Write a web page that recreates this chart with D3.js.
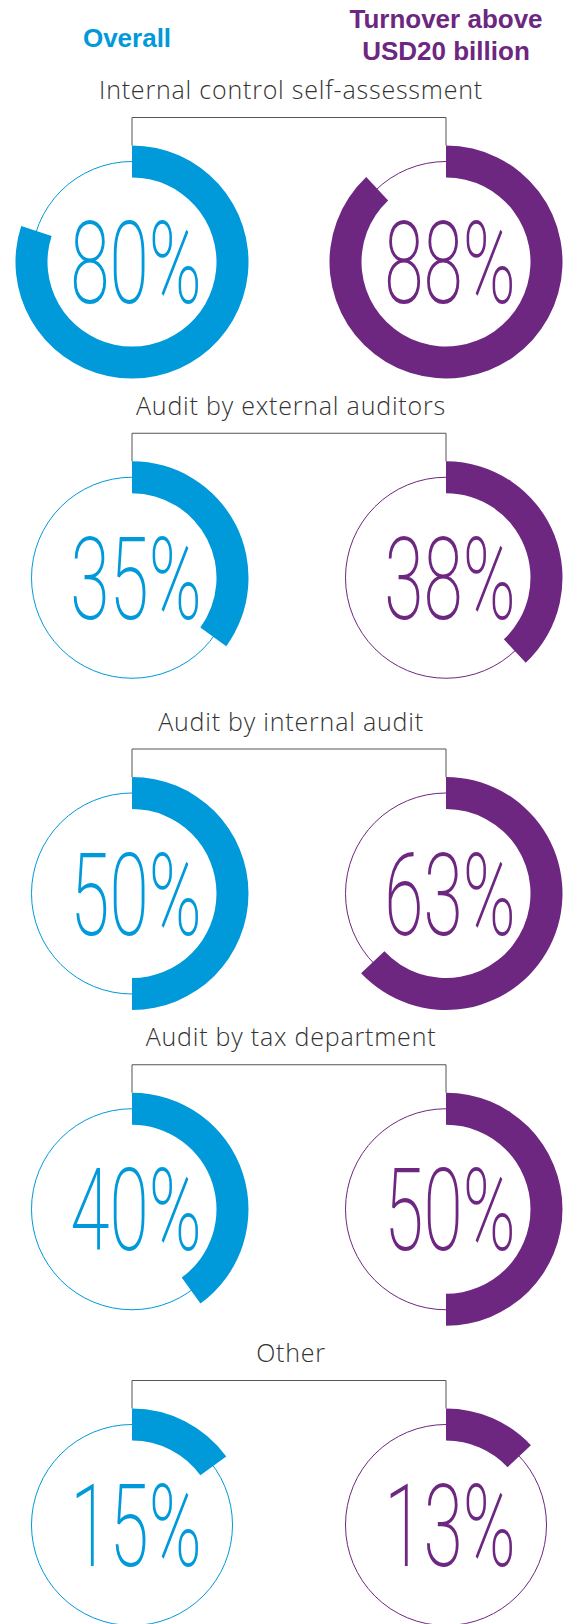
<!DOCTYPE html>
<html>
<head>
<meta charset="utf-8">
<script src="https://cdn.jsdelivr.net/npm/d3@7"></script>
<style>
  body { margin: 0; background: #fff; }
  svg { display: block; }
</style>
</head>
<body>
<svg width="563" height="1624"></svg>
<script>
// data
const categories = ["Internal control self-assessment", "Audit by external auditors",
    "Audit by internal audit", "Audit by tax department", "Other"];
const groups = ["Overall", "Turnover above USD20 billion"];
const overall = [80, 35, 50, 40, 15];
const above20bn = [88, 38, 63, 50, 13];

const colors = { "Overall": "#0099da", "Turnover above USD20 billion": "#6d2780" };

const svg = d3.select("svg");

const x = d3.scalePoint().domain(groups).range([132, 446]);
const y = d3.scalePoint().domain(categories).range([262, 1525]);
const angle = d3.scaleLinear().domain([0, 100]).range([0, 2 * Math.PI]);

const rOuter = 116.5, rInner = 84.5, rThin = 100.5;

const arc = d3.arc().innerRadius(rInner).outerRadius(rOuter).startAngle(0);

// header
svg.append("text")
    .attr("x", x(groups[0]) - 5).attr("y", 47)
    .attr("text-anchor", "middle")
    .style("font", "bold 26px 'Liberation Sans', Arial, sans-serif")
    .style("fill", colors[groups[0]])
    .text("Overall");

const head2 = svg.append("text")
    .attr("x", x(groups[1])).attr("y", 28)
    .attr("text-anchor", "middle")
    .style("font", "bold 26px 'Liberation Sans', Arial, sans-serif")
    .style("fill", colors[groups[1]]);
head2.append("tspan").attr("x", x(groups[1])).text("Turnover above");
head2.append("tspan").attr("x", x(groups[1])).attr("dy", 32).text("USD20 billion");

const rows = categories.map(function(c, i) {
    return { label: c, values: [
        { group: groups[0], value: overall[i] },
        { group: groups[1], value: above20bn[i] }
    ] };
});

const section = svg.selectAll("g.section")
    .data(rows)
    .enter().append("g")
    .attr("class", "section")
    .attr("transform", function(d) { return "translate(0," + y(d.label) + ")"; });

section.append("text")
    .attr("x", (x(groups[0]) + x(groups[1])) / 2 + 2)
    .attr("y", -163)
    .attr("text-anchor", "middle")
    .style("font", "300 25px 'Open Sans', 'Liberation Sans', sans-serif")
    .style("letter-spacing", "0.8px")
    .style("fill", "#333")
    .text(function(d) { return d.label; });

// bracket
section.append("path")
    .attr("d", "M" + x(groups[0]) + "," + (-rOuter) +
        "V-144.5H" + x(groups[1]) + "V" + (-rOuter))
    .attr("fill", "none")
    .attr("stroke", "#555")
    .attr("stroke-width", 1);

const donut = section.selectAll("g.donut")
    .data(function(d) { return d.values; })
    .enter().append("g")
    .attr("class", "donut")
    .attr("transform", function(d) { return "translate(" + x(d.group) + ",0)"; });

donut.append("circle")
    .attr("r", rThin)
    .attr("fill", "none")
    .attr("stroke", function(d) { return colors[d.group]; })
    .attr("stroke-width", 1);

donut.append("path")
    .attr("d", function(d) { return arc({ endAngle: angle(d.value) }); })
    .attr("fill", function(d) { return colors[d.group]; });

donut.append("text")
    .attr("transform", "translate(4,41) scale(0.62,1)")
    .attr("text-anchor", "middle")
    .style("font", "200 115px Roboto, 'Liberation Sans', sans-serif")
    .style("fill", function(d) { return colors[d.group]; })
    .text(function(d) { return d.value + "%"; });
</script>
</body>
</html>
